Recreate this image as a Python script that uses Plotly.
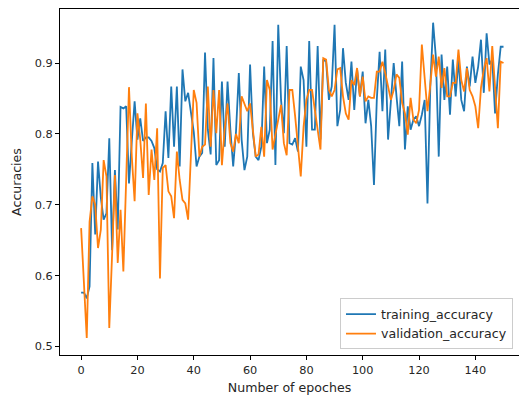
import plotly.graph_objects as go

epochs = list(range(151))

training_accuracy = [
    0.576, 0.576, 0.568, 0.585, 0.759, 0.658, 0.761, 0.710, 0.679, 0.688,
    0.794, 0.636, 0.749, 0.665, 0.838, 0.836, 0.839, 0.730, 0.790, 0.846,
    0.792, 0.822, 0.790, 0.795, 0.795, 0.790, 0.780, 0.750, 0.747, 0.759,
    0.832, 0.766, 0.867, 0.782, 0.867, 0.754, 0.891, 0.846, 0.858, 0.830,
    0.803, 0.754, 0.768, 0.773, 0.915, 0.806, 0.771, 0.907, 0.756, 0.763,
    0.874, 0.782, 0.874, 0.806, 0.754, 0.803, 0.886, 0.792, 0.749, 0.768,
    0.898, 0.801, 0.768, 0.763, 0.782, 0.895, 0.787, 0.806, 0.931, 0.756,
    0.954, 0.848, 0.801, 0.924, 0.787, 0.785, 0.794, 0.775, 0.895, 0.876,
    0.782, 0.931, 0.806, 0.806, 0.924, 0.792, 0.905, 0.902, 0.848, 0.867,
    0.954, 0.811, 0.834, 0.921, 0.872, 0.848, 0.902, 0.834, 0.891, 0.853,
    0.888, 0.815, 0.848, 0.811, 0.728, 0.848, 0.916, 0.832, 0.919, 0.792,
    0.848, 0.900, 0.853, 0.811, 0.902, 0.778, 0.839, 0.806, 0.820, 0.825,
    0.811, 0.827, 0.848, 0.702, 0.867, 0.957, 0.907, 0.768, 0.912, 0.848,
    0.895, 0.827, 0.905, 0.853, 0.905, 0.848, 0.832, 0.895, 0.867, 0.909,
    0.872, 0.895, 0.933, 0.858, 0.942, 0.898, 0.905, 0.829, 0.884, 0.923,
    0.923,
]

validation_accuracy = [
    0.667, 0.590, 0.512, 0.676, 0.712, 0.700, 0.639, 0.665, 0.763, 0.740,
    0.526, 0.630, 0.742, 0.618, 0.693, 0.606, 0.740, 0.866, 0.768, 0.705,
    0.829, 0.792, 0.738, 0.843, 0.714, 0.778, 0.735, 0.808, 0.596, 0.752,
    0.756, 0.719, 0.712, 0.681, 0.775, 0.735, 0.707, 0.702, 0.679, 0.770,
    0.862, 0.844, 0.768, 0.782, 0.785, 0.867, 0.782, 0.862, 0.801, 0.862,
    0.756, 0.808, 0.843, 0.787, 0.775, 0.800, 0.787, 0.853, 0.843, 0.832,
    0.843, 0.806, 0.768, 0.771, 0.810, 0.768, 0.876, 0.862, 0.778, 0.799,
    0.820, 0.841, 0.787, 0.770, 0.862, 0.862, 0.825, 0.782, 0.740, 0.810,
    0.848, 0.862, 0.862, 0.834, 0.808, 0.778, 0.907, 0.905, 0.862, 0.853,
    0.862, 0.891, 0.893, 0.853, 0.829, 0.820, 0.876, 0.869, 0.893, 0.853,
    0.881, 0.846, 0.853, 0.851, 0.851, 0.888, 0.888, 0.902, 0.886, 0.869,
    0.848, 0.862, 0.884, 0.879, 0.844, 0.829, 0.799, 0.851, 0.820, 0.815,
    0.834, 0.926, 0.872, 0.832, 0.869, 0.912, 0.881, 0.909, 0.865, 0.893,
    0.853, 0.853, 0.872, 0.872, 0.919, 0.876, 0.860, 0.893, 0.862, 0.853,
    0.839, 0.808, 0.865, 0.891, 0.907, 0.860, 0.924, 0.867, 0.808, 0.902,
    0.900,
]

x_ticks = [0, 20, 40, 60, 80, 100, 120, 140]
y_ticks = [0.5, 0.6, 0.7, 0.8, 0.9]

FONT = "DejaVu Sans"
TEXT = "#262626"
fig = go.Figure()
fig.add_trace(go.Scatter(x=epochs, y=training_accuracy, mode="lines",
                         name="training_accuracy",
                         line=dict(color="#1f77b4", width=1.8)))
fig.add_trace(go.Scatter(x=epochs, y=validation_accuracy, mode="lines",
                         name="validation_accuracy",
                         line=dict(color="#ff7f0e", width=1.8)))

fig.update_layout(
    width=519, height=396,
    margin=dict(l=60, r=0, t=9, b=41),
    paper_bgcolor="white", plot_bgcolor="white",
    font=dict(family=FONT, size=11.3, color=TEXT),
    showlegend=True,
    legend=dict(x=0.61, y=0.016, xanchor="left", yanchor="bottom",
                bgcolor="rgba(255,255,255,0.8)", bordercolor="#cccccc",
                borderwidth=1, font=dict(size=12.6, family=FONT, color=TEXT),
                tracegroupgap=0),
    xaxis=dict(range=[-7.5, 155.5], tickvals=x_ticks,
               ticktext=[str(t) for t in x_ticks],
               tickfont=dict(size=11.3, family=FONT, color=TEXT),
               showgrid=False, zeroline=False,
               showline=True, linecolor="black", linewidth=1, mirror=True,
               ticks="outside", ticklen=4, tickcolor="black",
               title=dict(text="Number of epoches", standoff=7,
                          font=dict(size=12.6, family=FONT, color=TEXT))),
    yaxis=dict(range=[0.488, 0.9763], tickvals=y_ticks,
               ticktext=[f"{t:.1f}" for t in y_ticks],
               tickfont=dict(size=11.3, family=FONT, color=TEXT),
               showgrid=False, zeroline=False,
               showline=True, linecolor="black", linewidth=1,
               ticks="outside", ticklen=4, tickcolor="black",
               title=dict(text="Accuracies", standoff=10,
                          font=dict(size=12.6, family=FONT, color=TEXT))),
)

fig.write_html("out.html")
